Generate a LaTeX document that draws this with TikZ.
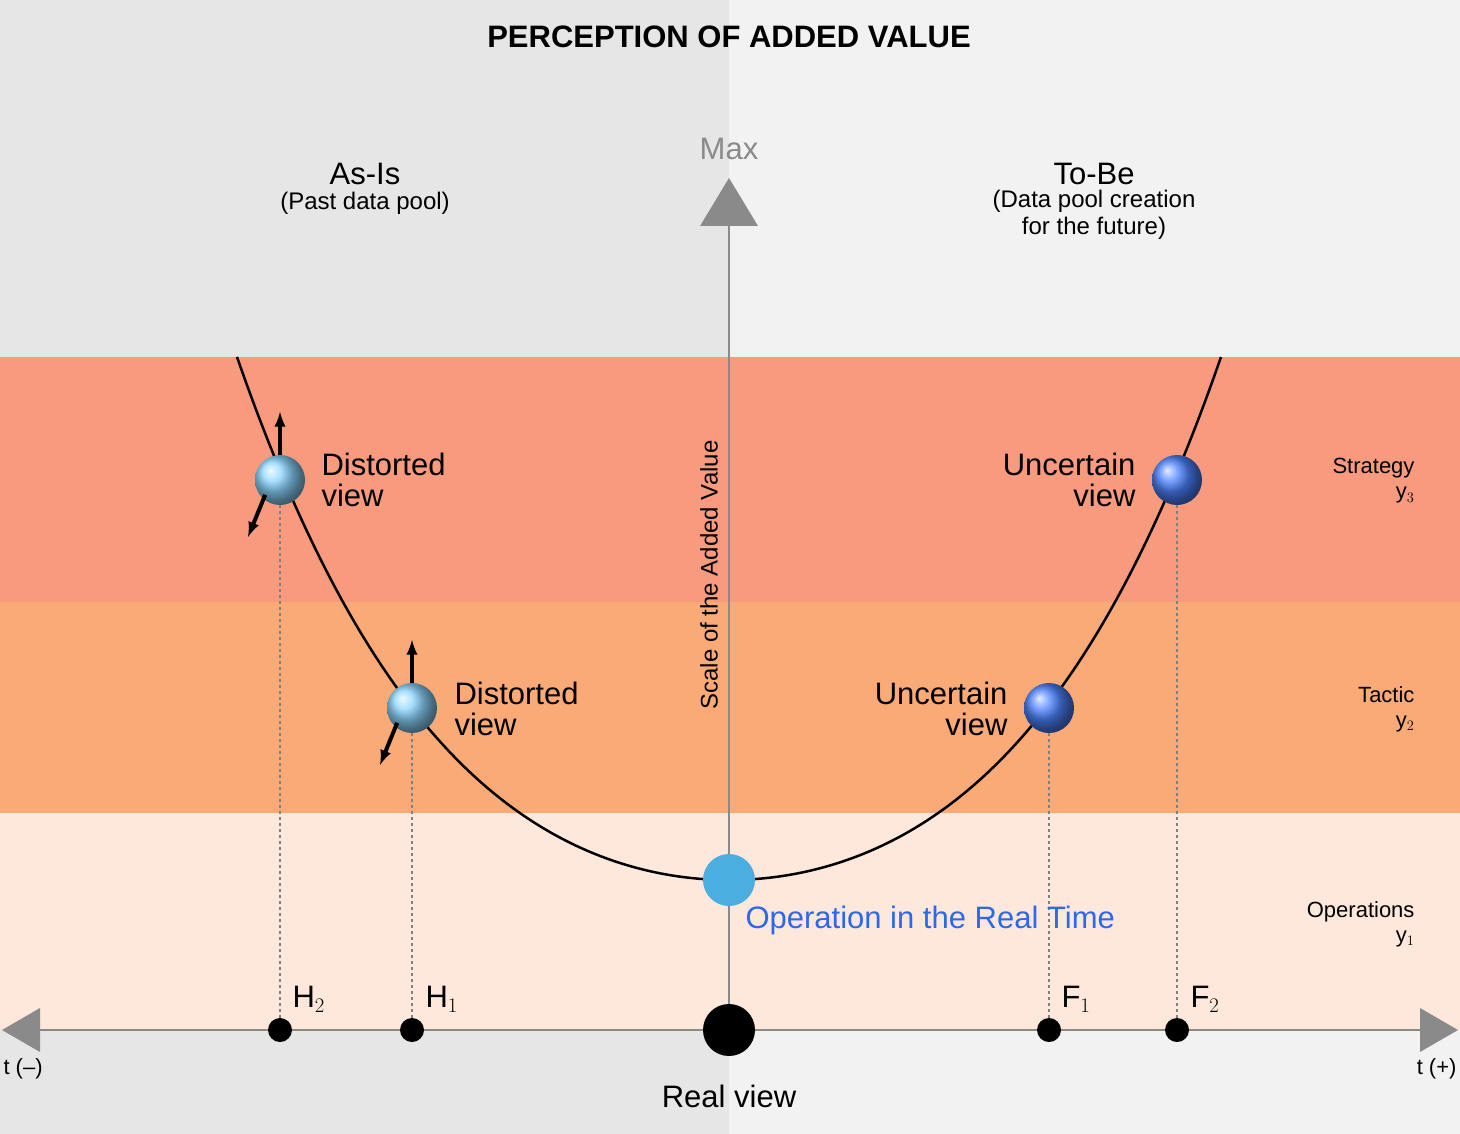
\documentclass[tikz,border=0pt]{standalone}
\usepackage{fontspec}
\setmainfont{Liberation Sans}
\begin{document}
\begin{tikzpicture}[x=1pt,y=-1pt,
 fA/.style={font=\fontsize{31}{34}\selectfont},
 fB/.style={font=\fontsize{24}{27}\selectfont},
 fC/.style={font=\fontsize{22}{25}\selectfont},
 lball/.style={circle,minimum size=50pt,inner sep=0pt,shading=ball,ball color=blue!35!cyan!45!white},
 dball/.style={circle,minimum size=50pt,inner sep=0pt,shading=ball,ball color=blue!70!cyan!70!white},
 dot/.style={circle,fill=black,minimum size=24pt,inner sep=0pt},
 guide/.style={gray,dashed,line width=1.2pt},
 push/.style={-latex,line width=4pt}]
\definecolor{bgL}{HTML}{E6E6E6}\definecolor{bgR}{HTML}{F2F2F2}
\definecolor{strat}{HTML}{F79A7E}\definecolor{tact}{HTML}{F9AA76}\definecolor{oper}{HTML}{FEE8DB}
\definecolor{ax}{HTML}{8A8A8A}\definecolor{rt}{HTML}{4AAEE0}
\useasboundingbox (0,0) rectangle (1460,1134);
\fill[bgL] (0,0) rectangle (729,1134);
\fill[bgR] (729,0) rectangle (1460,1134);
\fill[strat] (0,357) rectangle (1460,602);
\fill[tact] (0,602) rectangle (1460,813);
\fill[oper] (0,813) rectangle (1460,1030);
\node[font=\bfseries\fontsize{31}{34}\selectfont] (title) at (729,37) {PERCEPTION OF ADDED VALUE};
% axes
\coordinate (vb) at (729,1030); \coordinate (vt) at (729,226);
\draw[ax,line width=1.5pt] (vb) -- (vt);
\fill[ax] (700,226) -- (729,178) -- (758,226) -- cycle;
\node[ax,fA] (max) at (729,149) {Max};
\coordinate (hl) at (40,1030); \coordinate (hr) at (1420,1030);
\draw[ax,line width=1.5pt] (hl) -- (hr);
\fill[ax] (40,1008) -- (2,1030) -- (40,1052) -- cycle;
\fill[ax] (1420,1008) -- (1458,1030) -- (1420,1052) -- cycle;
\node[rotate=90,fB] (scale) at (709,575) {Scale of the Added Value};
% curve
\draw[line width=2.5pt] plot[domain=-4.92:4.92,samples=120,smooth] ({729+100*\x},{880-13.93*\x*\x-0.3172*\x*\x*\x*\x});
% dots on axis
\node[dot] (h2) at (280,1030) {};
\node[dot] (h1) at (412,1030) {};
\node[dot] (f1) at (1049,1030) {};
\node[dot] (f2) at (1177,1030) {};
\node[dot,minimum size=52pt] (rv) at (729,1030) {};
% balls
\node[lball] (b2) at (280,480) {};
\node[lball] (b1) at (412,708) {};
\node[dball] (c1) at (1049,708) {};
\node[dball] (c2) at (1177,480) {};
\node[circle,fill=rt,minimum size=52pt,inner sep=0pt] (rb) at (729,880) {};
\draw[guide] (b2) -- (h2); \draw[guide] (b1) -- (h1);
\draw[guide] (c1) -- (f1); \draw[guide] (c2) -- (f2);
\draw[push] (b2.north) -- ++(0,-43);
\draw[push] (b2.south west) ++(3,-3) -- (248,537);
\draw[push] (b1.north) -- ++(0,-43);
\draw[push] (b1.south west) ++(3,-3) -- (380,765);
% texts
\node[fA,align=left,anchor=west] (t1) at (318,480) {Distorted\\[-3pt]view};
\node[fA,align=left,anchor=west] (t2) at (451,709) {Distorted\\[-3pt]view};
\node[fA,align=right,anchor=east] (t3) at (1139,480) {Uncertain\\[-3pt]view};
\node[fA,align=right,anchor=east] (t4) at (1011,709) {Uncertain\\[-3pt]view};
\node[fA,anchor=west,text=rt!60!blue] (op) at (742,920) {Operation in the Real Time};
\node[fC,align=right,anchor=east] (s) at (1418,481) {Strategy\\y$_3$};
\node[fC,align=right,anchor=east] (ta) at (1418,709) {Tactic\\y$_2$};
\node[fC,align=right,anchor=east] (o) at (1418,924) {Operations\\y$_1$};
\node[fA,anchor=west] at (289,999) {H$_2$};
\node[fA,anchor=west] at (422,999) {H$_1$};
\node[fA,anchor=west] at (1058,999) {F$_1$};
\node[fA,anchor=west] at (1187,999) {F$_2$};
\node[fC,anchor=west] (tm) at (0,1069) {t (–)};
\node[fC,anchor=east] (tp) at (1460,1069) {t (+)};
\node[fA] (real) at (729,1096) {Real view};
\node[fA] at (365,174) {As-Is};
\node[fB] at (365,203) {(Past data pool)};
\node[fA] at (1094,174) {To-Be};
\node[fB,align=center] at (1094,215) {(Data pool creation\\for the future)};
\end{tikzpicture}
\end{document}
